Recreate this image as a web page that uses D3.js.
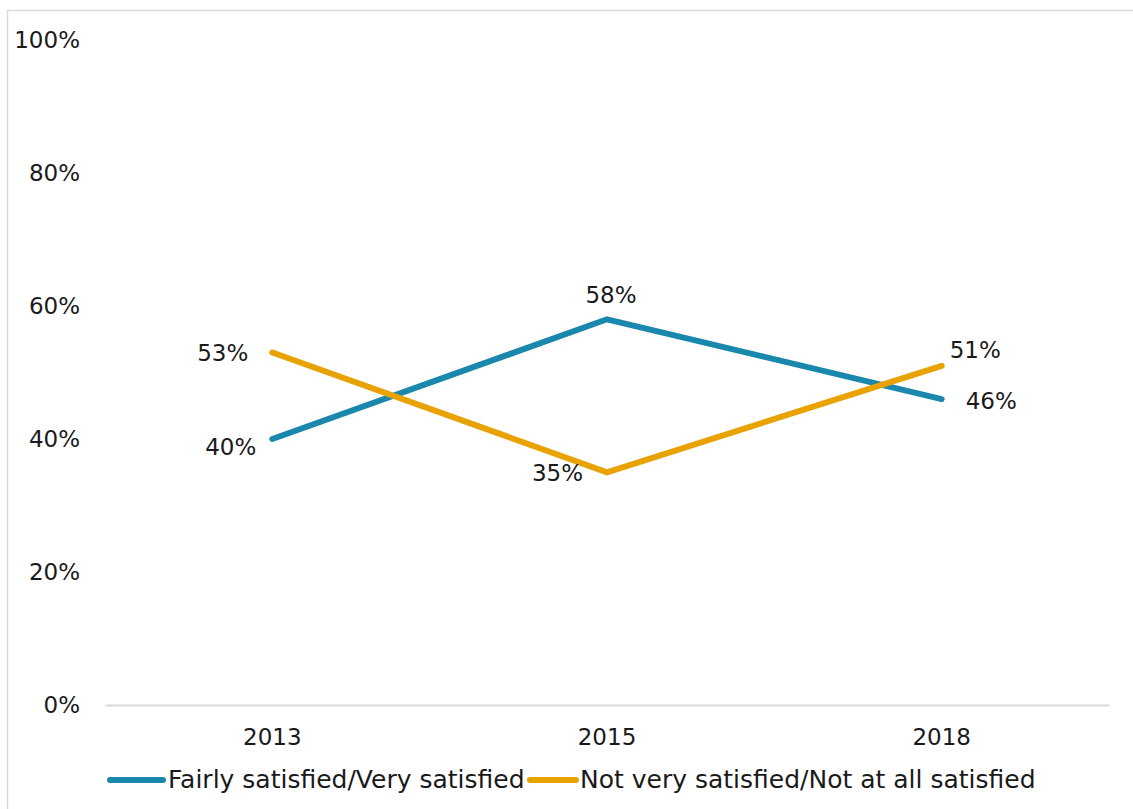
<!DOCTYPE html>
<html><head><meta charset="utf-8">
<script src="https://cdn.jsdelivr.net/npm/d3@7"></script>
<style>
html,body{margin:0;padding:0;background:#fff;}
text{font-family:"DejaVu Sans",sans-serif;fill:#1a1a1a;}
</style></head>
<body>
<svg id="chart" width="1133" height="809"></svg>
<script>
const categories = ["2013", "2015", "2018"];
const seriesNames = ["Fairly satisfied/Very satisfied", "Not very satisfied/Not at all satisfied"];
const satisfied = [40, 58, 46];
const notSatisfied = [53, 35, 51];
const yTicks = [0, 20, 40, 60, 80, 100];
const colors = ["#1a88ad", "#e8a202"];

const svg = d3.select("#chart");
const fs = 23;
const fsLegend = 25;

// outer border
svg.append("rect").attr("x", 7.5).attr("y", 10.5).attr("width", 1140).attr("height", 820)
  .attr("fill", "none").attr("stroke", "#d9d9d9").attr("stroke-width", 1.5);

const plot = {left: 105, right: 1109, top: 40, bottom: 705};
const x = d3.scaleBand().domain(categories).range([plot.left, plot.right]);
const y = d3.scaleLinear().domain([0, 100]).range([plot.bottom, plot.top]);
const cx = c => x(c) + x.bandwidth() / 2;

// y axis labels
const yAxis = d3.axisLeft(y).tickValues(yTicks).tickFormat(d => d + "%").tickSize(0).tickPadding(0);
const gy = svg.append("g").attr("transform", "translate(80,0)").call(yAxis);
gy.select(".domain").remove();
gy.selectAll("text").style("font-size", fs + "px").style("font-family", "DejaVu Sans").attr("fill", "#1a1a1a");

// x axis
const xAxis = d3.axisBottom(x).tickSize(0).tickPadding(24);
const gx = svg.append("g").attr("transform", `translate(0,${plot.bottom})`).call(xAxis);
gx.select(".domain").attr("stroke", "#d9d9d9").attr("stroke-width", 2);
gx.selectAll("text").style("font-size", fs + "px").style("font-family", "DejaVu Sans").attr("fill", "#1a1a1a");

const series = [satisfied, notSatisfied];
const line = d3.line().x((d, i) => cx(categories[i])).y(d => y(d));
series.forEach((vals, si) => {
  svg.append("path").datum(vals).attr("d", line).attr("fill", "none")
    .attr("stroke", colors[si]).attr("stroke-width", 6).attr("stroke-linecap", "round").attr("stroke-linejoin", "miter");
});

// data label offsets [dx, dy, anchor] per series per point
const labelPos = [
  [[-16, 9, "end"], [4, -23, "middle"], [24, 3, "start"]],
  [[-24, 2, "end"], [-24, 2, "end"], [8, -14, "start"]]
];
series.forEach((vals, si) => {
  vals.forEach((v, i) => {
    const [dx, dy, anchor] = labelPos[si][i];
    svg.append("text").attr("x", cx(categories[i]) + dx).attr("y", y(v) + dy)
      .attr("text-anchor", anchor).attr("dominant-baseline", "middle")
      .style("font-size", fs + "px").text(v + "%");
  });
});

// legend
const legend = [
  {x1: 110, x2: 163, tx: 168},
  {x1: 530, x2: 576, tx: 580}
];
legend.forEach((l, i) => {
  svg.append("line").attr("x1", l.x1).attr("x2", l.x2).attr("y1", 780).attr("y2", 780)
    .attr("stroke", colors[i]).attr("stroke-width", 6).attr("stroke-linecap", "round");
  svg.append("text").attr("x", l.tx).attr("y", 781).attr("dominant-baseline", "middle")
    .style("font-size", fsLegend + "px").text(seriesNames[i]);
});
</script>
</body></html>
